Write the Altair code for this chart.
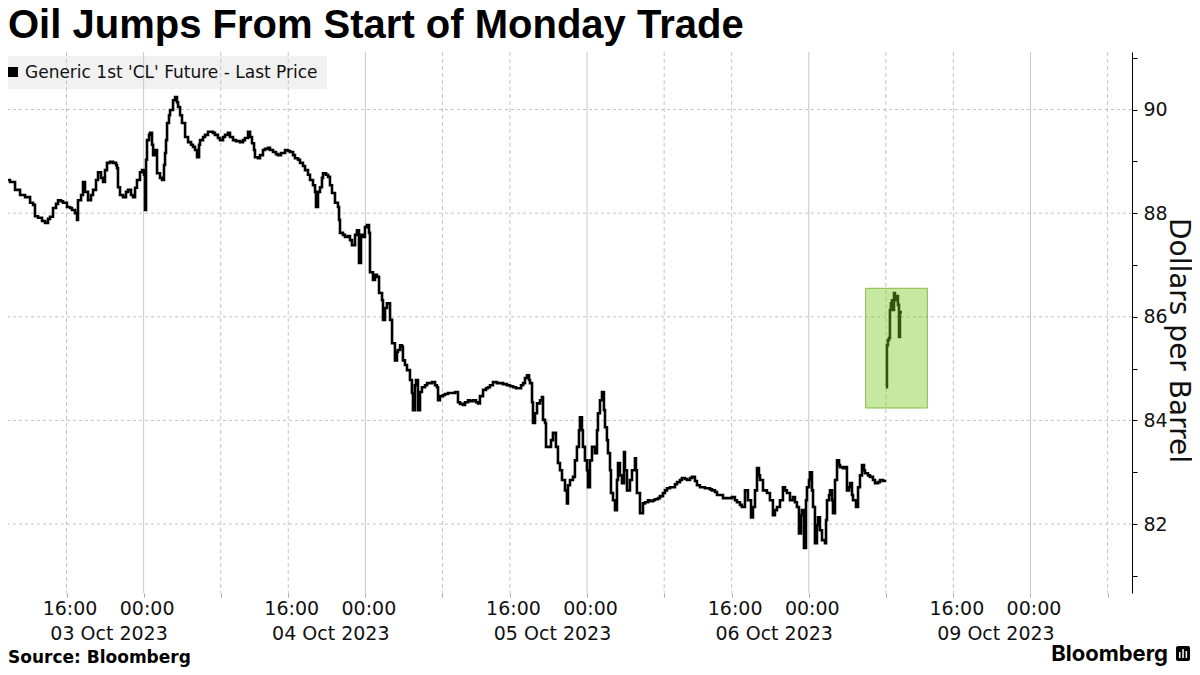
import altair as alt
import pandas as pd

# x = trading-hour index from 08:00 03 Oct 2023 (daily break and weekend removed), y = $/bbl
oct03 = [(0.10, 88.56), (0.62, 88.64), (1.14, 88.60), (1.66, 88.45), (2.18, 88.35), (2.70, 88.31),
         (3.22, 88.20), (3.53, 88.16), (3.73, 87.94), (4.05, 87.91), (4.46, 87.85), (4.77, 87.81),
         (5.08, 87.89), (5.29, 87.93), (5.60, 88.10), (5.91, 88.18), (6.12, 88.25), (6.43, 88.23),
         (6.64, 88.20), (7.05, 88.12), (7.36, 88.10), (7.57, 88.06), (7.88, 88.00), (8.09, 87.87),
         (8.19, 88.25), (8.51, 88.35), (8.71, 88.60), (8.92, 88.41), (9.23, 88.25), (9.54, 88.35),
         (9.75, 88.45), (10.06, 88.64), (10.27, 88.79), (10.58, 88.68), (10.79, 88.60), (10.99, 88.83),
         (11.20, 88.97), (11.51, 88.99), (11.83, 88.97), (12.14, 88.93), (12.24, 88.87), (12.34, 88.50),
         (12.55, 88.35), (12.86, 88.31), (13.17, 88.41), (13.38, 88.45), (13.69, 88.35), (13.90, 88.31),
         (14.11, 88.49), (14.31, 88.64), (14.62, 88.79), (14.83, 88.83), (15.04, 88.74)]

oct04 = [(15.14, 88.06), (15.25, 89.03), (15.35, 89.41), (15.56, 89.51), (15.66, 89.55), (15.87, 89.32),
         (15.98, 89.12), (16.18, 89.22), (16.39, 88.77), (16.70, 88.68), (16.91, 88.64), (17.11, 88.93),
         (17.22, 89.16), (17.32, 89.41), (17.43, 89.74), (17.63, 89.89), (17.74, 89.99), (18.05, 90.18),
         (18.26, 90.24), (18.46, 90.14), (18.57, 90.05), (18.78, 89.89), (18.98, 89.74), (19.30, 89.47),
         (19.61, 89.37), (19.92, 89.32), (20.12, 89.28), (20.33, 89.22), (20.54, 89.08), (20.75, 89.32),
         (20.85, 89.41), (21.16, 89.47), (21.37, 89.51), (21.68, 89.57), (21.88, 89.57), (22.19, 89.55),
         (22.40, 89.51), (22.71, 89.45), (22.92, 89.41), (23.24, 89.47), (23.44, 89.51), (23.75, 89.55),
         (23.96, 89.47), (24.27, 89.41), (24.58, 89.39), (24.99, 89.37), (25.31, 89.41), (25.51, 89.45),
         (25.83, 89.57), (26.04, 89.47), (26.24, 89.35), (26.45, 89.22), (26.55, 89.08), (26.86, 89.06),
         (27.07, 89.12), (27.38, 89.22), (27.59, 89.24), (27.90, 89.26), (28.11, 89.22), (28.42, 89.18),
         (28.73, 89.14), (28.94, 89.12), (29.25, 89.16), (29.67, 89.22), (29.98, 89.20), (30.19, 89.18),
         (30.50, 89.12), (30.70, 89.06), (31.02, 89.03), (31.22, 88.97), (31.53, 88.91), (31.74, 88.83),
         (32.05, 88.74), (32.26, 88.64), (32.57, 88.54), (32.78, 88.41), (32.88, 88.12), (33.09, 88.41),
         (33.30, 88.50), (33.50, 88.68), (33.61, 88.77), (33.92, 88.74), (34.13, 88.70), (34.33, 88.54),
         (34.54, 88.39), (34.85, 88.20), (35.16, 88.12), (35.27, 87.87), (35.37, 87.62), (35.68, 87.58),
         (35.89, 87.54), (36.20, 87.56), (36.41, 87.48), (36.61, 87.38), (36.93, 87.58), (37.13, 87.67),
         (37.34, 87.04), (37.55, 87.58), (37.76, 87.54), (37.96, 87.73)]

oct05 = [(38.17, 87.77), (38.38, 87.62), (38.48, 86.86), (38.79, 86.71), (39.00, 86.81), (39.21, 86.77),
         (39.42, 86.46), (39.73, 86.32), (39.83, 85.94), (40.04, 86.17), (40.24, 86.26), (40.56, 85.94),
         (40.77, 85.49), (41.07, 85.16), (41.28, 85.32), (41.38, 85.36), (41.60, 85.45), (41.80, 85.42),
         (41.90, 85.16), (42.11, 85.07), (42.32, 84.97), (42.63, 84.78), (42.83, 84.53), (42.94, 84.20),
         (43.14, 84.68), (43.25, 84.78), (43.46, 84.20), (43.67, 84.55), (43.87, 84.64), (44.19, 84.68),
         (44.40, 84.72), (44.71, 84.72), (44.91, 84.74), (45.23, 84.68), (45.43, 84.64), (45.54, 84.39),
         (45.74, 84.47), (46.06, 84.49), (46.26, 84.51), (46.57, 84.53), (46.99, 84.53), (47.30, 84.55),
         (47.61, 84.35), (47.82, 84.32), (48.13, 84.30), (48.34, 84.35), (48.65, 84.39), (48.86, 84.37),
         (49.17, 84.39), (49.48, 84.35), (49.69, 84.33), (49.89, 84.47), (50.21, 84.59), (50.52, 84.62),
         (50.72, 84.64), (50.93, 84.68), (51.24, 84.74), (51.66, 84.72), (51.97, 84.72), (52.28, 84.70),
         (52.69, 84.68), (53.01, 84.66), (53.32, 84.64), (53.63, 84.62), (53.84, 84.62), (54.15, 84.68),
         (54.36, 84.72), (54.56, 84.82), (54.77, 84.87), (54.98, 84.78), (55.08, 84.72), (55.29, 84.35),
         (55.39, 83.95), (55.60, 84.14), (55.81, 84.33), (56.12, 84.39), (56.32, 84.45), (56.43, 84.01),
         (56.64, 83.95), (56.74, 83.49), (57.05, 83.49), (57.26, 83.62), (57.46, 83.76), (57.77, 83.49),
         (57.98, 83.18), (58.19, 83.04), (58.40, 82.85), (58.71, 82.65), (58.91, 82.40), (59.02, 82.75),
         (59.23, 82.85), (59.54, 82.91), (59.74, 83.23), (59.95, 83.49), (60.16, 83.81), (60.26, 84.06),
         (60.47, 83.81), (60.57, 83.49), (60.78, 83.23), (60.99, 83.04)]

oct06 = [(61.09, 82.71), (61.30, 83.23), (61.51, 83.49), (61.82, 83.37), (62.03, 83.81), (62.13, 84.14),
         (62.34, 84.39), (62.55, 84.55), (62.75, 84.20), (62.86, 83.87), (63.06, 83.62), (63.17, 83.37),
         (63.38, 83.04), (63.48, 82.60), (63.69, 82.46), (63.90, 82.27), (64.10, 82.85), (64.21, 83.18),
         (64.41, 82.94), (64.62, 82.79), (64.83, 83.39), (64.93, 83.04), (65.14, 82.65), (65.45, 82.85),
         (65.66, 83.04), (65.97, 83.27), (66.07, 83.04), (66.17, 82.60), (66.49, 82.21), (66.80, 82.40),
         (67.01, 82.42), (67.32, 82.46), (67.52, 82.44), (67.84, 82.46), (68.04, 82.48), (68.36, 82.50),
         (68.56, 82.54), (68.87, 82.60), (69.08, 82.65), (69.29, 82.69), (69.60, 82.71), (69.81, 82.71),
         (70.12, 82.77), (70.33, 82.81), (70.64, 82.85), (70.84, 82.89), (71.16, 82.87), (71.36, 82.85),
         (71.68, 82.89), (71.88, 82.91), (72.19, 82.83), (72.40, 82.75), (72.71, 82.71), (72.92, 82.71),
         (73.23, 82.69), (73.44, 82.69), (73.75, 82.67), (73.96, 82.65), (74.27, 82.62), (74.48, 82.56),
         (74.79, 82.56), (75.10, 82.50), (75.51, 82.50), (76.03, 82.52), (76.34, 82.46), (76.55, 82.42),
         (76.86, 82.37), (77.06, 82.33), (77.38, 82.65), (77.69, 82.46), (78.01, 82.13), (78.21, 82.33),
         (78.42, 82.65), (78.63, 83.08), (78.83, 82.94), (78.94, 82.85), (79.25, 82.65), (79.46, 82.65),
         (79.66, 82.60), (79.97, 82.46), (80.28, 82.17), (80.49, 82.27), (80.70, 82.33), (81.01, 82.46),
         (81.32, 82.71), (81.53, 82.65), (81.73, 82.60), (82.05, 82.46), (82.36, 82.52), (82.57, 82.42),
         (82.77, 82.33), (82.98, 81.82), (83.19, 82.17), (83.29, 82.27), (83.50, 81.54), (83.71, 82.46),
         (83.81, 82.71), (84.02, 82.85), (84.12, 83.00), (84.33, 82.65), (84.44, 82.33), (84.64, 81.63),
         (84.85, 81.98), (84.96, 82.13), (85.16, 81.88), (85.37, 81.69), (85.68, 81.63), (85.79, 82.08),
         (85.89, 82.46), (86.10, 82.56), (86.20, 82.65), (86.41, 82.46), (86.51, 82.21), (86.72, 82.85),
         (86.93, 83.23), (87.14, 83.14), (87.24, 83.10), (87.55, 83.08), (87.76, 83.10), (87.96, 82.65),
         (88.17, 82.71), (88.28, 82.79), (88.48, 82.56), (88.59, 82.46), (88.90, 82.33), (89.11, 82.71),
         (89.31, 82.94), (89.52, 83.14), (89.73, 83.04), (89.83, 82.98), (90.14, 82.94), (90.35, 82.91),
         (90.66, 82.85), (90.87, 82.79), (91.18, 82.81), (91.39, 82.85), (91.70, 82.83), (91.91, 82.81)]

oct09 = [(92.01, 84.64), (92.11, 85.45), (92.21, 85.55), (92.32, 85.59), (92.42, 86.13), (92.52, 86.26),
         (92.63, 86.32), (92.73, 86.13), (92.84, 86.46), (92.94, 86.36), (93.04, 86.32), (93.15, 86.40),
         (93.25, 86.23), (93.36, 85.61), (93.46, 86.09), (93.67, 86.09)]

# axis / grid values
y_grid = [82, 84, 86, 88, 90]
y_ticks = [81, 82, 83, 84, 85, 86, 87, 88, 89, 90, 91]
t_dashed = [7, 23, 30, 46, 53, 69, 76, 92, 99, 115]      # 08:00 and 16:00
t_midnight = [15, 38, 61, 84, 107]                         # 00:00
t_1600 = [7, 30, 53, 76, 99]
date_t = [11, 34, 57, 80, 103]
date_labels = ["03 Oct 2023", "04 Oct 2023", "05 Oct 2023", "06 Oct 2023", "09 Oct 2023"]

# highlight box around Monday trade
hl_t = [89.9, 96.3]
hl_p = [84.24, 86.55]

X_DOMAIN = [0.93, 117.53]
Y_DOMAIN = [80.67, 91.11]
W, H = 1124, 541

rows = []
for seg, pts in [("week", oct03 + oct04 + oct05 + oct06), ("monday", oct09)]:
    for t, p in pts:
        rows.append({"t": t, "price": p, "seg": seg})
line_df = pd.DataFrame(rows)

xs = alt.Scale(domain=X_DOMAIN, nice=False, zero=False)
ys = alt.Scale(domain=Y_DOMAIN, nice=False, zero=False)
FONT = "DejaVu Sans"

tick_values = sorted(t_dashed + t_midnight)
label_expr = ("indexof(%s, datum.value) >= 0 ? '16:00' : (indexof(%s, datum.value) >= 0 ? '00:00' : '')"
              % (str(t_1600), str(t_midnight)))

x_axis = alt.Axis(values=tick_values, labelExpr=label_expr, title=None, domain=False, grid=False,
                  tickSize=4, tickColor="#aaaaaa", labelFont=FONT, labelFontSize=19, labelColor="#111111",
                  labelPadding=2, labelOffset=3, labelOverlap=False, labelFlush=False, labelBound=False)
y_axis = alt.Axis(orient="right", values=y_ticks, labelExpr="datum.value % 2 == 0 ? datum.label : ''",
                  grid=False, domainColor="#000000", domainWidth=1, tickColor="#000000", tickSize=5,
                  labelFont=FONT, labelFontSize=19, labelColor="#111111", labelPadding=6,
                  labelOverlap=False, labelFlush=False, labelBound=False,
                  title="Dollars per Barrel", titleFont=FONT, titleFontSize=28, titleFontWeight="normal",
                  titleColor="#111111", titleAngle=90, titleX=37, titleY=288, titleAlign="center",
                  titleBaseline="alphabetic")

one = pd.DataFrame({"k": [0]})

legend_box = alt.Chart(one).mark_rect(color="#f1f1f1").encode(
    x=alt.value(0), x2=alt.value(319), y=alt.value(4), y2=alt.value(37))

hgrid = alt.Chart(pd.DataFrame({"price": y_grid})).mark_rule(
    color="#c4c4c4", strokeDash=[3, 3], strokeWidth=1).encode(
    y=alt.Y("price:Q", scale=ys, axis=y_axis))

vgrid_d = alt.Chart(pd.DataFrame({"t": t_dashed})).mark_rule(
    color="#c4c4c4", strokeDash=[4, 3], strokeWidth=1).encode(
    x=alt.X("t:Q", scale=xs, axis=x_axis))

vgrid_s = alt.Chart(pd.DataFrame({"t": t_midnight})).mark_rule(
    color="#c8c8c8", strokeWidth=1).encode(
    x=alt.X("t:Q", scale=xs, axis=x_axis))

line = alt.Chart(line_df).mark_line(
    color="#000000", strokeWidth=2.6, interpolate="step-after", clip=True).encode(
    x=alt.X("t:Q", scale=xs, axis=x_axis),
    y=alt.Y("price:Q", scale=ys, axis=y_axis),
    detail="seg:N")

highlight = alt.Chart(pd.DataFrame({"t": [hl_t[0]], "t1": [hl_t[1]],
                                    "price": [hl_p[0]], "p1": [hl_p[1]]})).mark_rect(
    fill="#78c81e", fillOpacity=0.42, stroke="#86bd45", strokeWidth=1).encode(
    x=alt.X("t:Q", scale=xs, axis=x_axis), x2="t1:Q",
    y=alt.Y("price:Q", scale=ys, axis=y_axis), y2="p1:Q")

legend_sq = alt.Chart(one).mark_rect(color="#000000").encode(
    x=alt.value(0), x2=alt.value(10), y=alt.value(15), y2=alt.value(25))

legend_txt = alt.Chart(pd.DataFrame({"s": ["Generic 1st 'CL' Future - Last Price"]})).mark_text(
    font=FONT, fontSize=17, align="left", baseline="middle", color="#111111").encode(
    x=alt.value(17), y=alt.value(21), text="s:N")

dates = alt.Chart(pd.DataFrame({"t": date_t, "lab": date_labels})).mark_text(
    font=FONT, fontSize=19, align="center", baseline="middle", color="#111111", dx=4).encode(
    x=alt.X("t:Q", scale=xs, axis=x_axis), y=alt.value(582), text="lab:N")

title = alt.Chart(pd.DataFrame({"s": ["Oil Jumps From Start of Monday Trade"]})).mark_text(
    font="Liberation Sans", fontSize=40, fontWeight="bold", align="left", baseline="alphabetic",
    color="#000000").encode(x=alt.value(0), y=alt.value(-14), text="s:N")

footer = alt.Chart(pd.DataFrame({"s": ["Source: Bloomberg"]})).mark_text(
    font=FONT, fontSize=17, fontWeight="bold", align="left", baseline="alphabetic",
    color="#000000").encode(x=alt.value(0), y=alt.value(611), text="s:N")

logo = alt.Chart(pd.DataFrame({"s": ["Bloomberg"]})).mark_text(
    font="Inter", fontSize=22, fontWeight=700, align="right", baseline="alphabetic",
    color="#000000").encode(x=alt.value(1160), y=alt.value(609), text="s:N")

icon = alt.Chart(one).mark_rect(color="#000000", cornerRadius=2).encode(
    x=alt.value(1168), x2=alt.value(1182), y=alt.value(594), y2=alt.value(609))

icon_bar1 = alt.Chart(one).mark_rect(color="#ffffff").encode(
    x=alt.value(1171), x2=alt.value(1172.5), y=alt.value(600), y2=alt.value(606))
icon_bar2 = alt.Chart(one).mark_rect(color="#ffffff").encode(
    x=alt.value(1174.3), x2=alt.value(1175.8), y=alt.value(597), y2=alt.value(606))
icon_bar3 = alt.Chart(one).mark_rect(color="#ffffff").encode(
    x=alt.value(1177.6), x2=alt.value(1179.1), y=alt.value(599), y2=alt.value(606))

chart = alt.layer(
    legend_box, hgrid, vgrid_d, vgrid_s, line, highlight, legend_sq, legend_txt,
    dates, title, footer, logo, icon, icon_bar1, icon_bar2, icon_bar3
).properties(
    width=W, height=H,
    padding={"left": 0, "top": 44, "right": 60, "bottom": 74},
    autosize=alt.AutoSizeParams(type="none"),
).configure_view(stroke=None)

chart.save("out.html", embed_options={"renderer": "svg", "actions": False})
